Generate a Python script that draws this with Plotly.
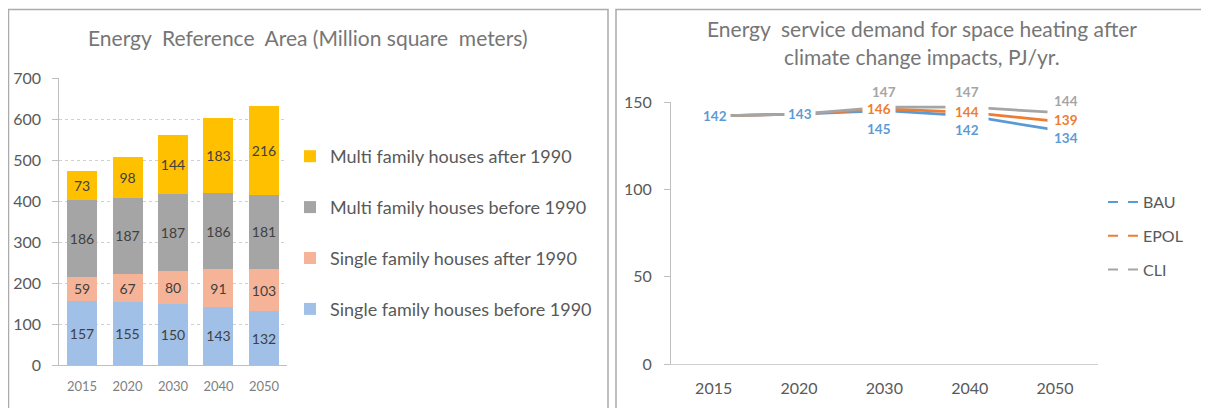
import plotly.graph_objects as go

# The page adds an 8 px body margin, so the figure is drawn 8 px smaller
# and every reference pixel position is shifted by that offset.
PAGE_W, PAGE_H, OFF = 1209, 408, 8
W, H = PAGE_W - OFF, PAGE_H - OFF
FONT = "Lato, Carlito, Calibri, sans-serif"

# ---------------- data ----------------
years = ["2015", "2020", "2030", "2040", "2050"]

area_names = [
    "Single family houses before 1990",
    "Single family houses after 1990",
    "Multi family houses before 1990",
    "Multi family houses after 1990",
]
single_before = [157, 155, 150, 143, 132]
single_after = [59, 67, 80, 91, 103]
multi_before = [186, 187, 187, 186, 181]
multi_after = [73, 98, 144, 183, 216]
area_ticks = [0, 100, 200, 300, 400, 500, 600, 700]

scenarios = ["BAU", "EPOL", "CLI"]
bau = [142, 143, 145, 142, 134]
epol = [142, 143, 146, 144, 139]
cli = [142, 143, 147, 147, 144]
demand_ticks = [0, 50, 100, 150]

title_left = "Energy  Reference  Area (Million square  meters)"
title_right_1 = "Energy  service demand for space heating after"
title_right_2 = "climate change impacts, PJ/yr."


# ---------------- helpers ----------------
def fx(px):
    return (px - OFF) / W


def fy(py):
    return 1 - (py - OFF) / H


area_values = [single_before, single_after, multi_before, multi_after]
area_colors = ["#A0C0E7", "#F5B498", "#A5A5A5", "#FFC000"]

demand_values = [bau, epol, cli]
demand_colors = ["#5B9BD5", "#ED7D31", "#A5A5A5"]

fig = go.Figure()

# stacked bars (left)
n_area = len(area_names)
for i, (name, vals, col) in enumerate(zip(area_names, area_values, area_colors)):
    fig.add_trace(go.Bar(
        x=years, y=vals, name=name,
        marker=dict(color=col, line=dict(width=0)),
        text=vals, texttemplate="%{text}",
        textposition="inside", insidetextanchor="middle",
        constraintext="none", textangle=0,
        insidetextfont=dict(family=FONT, size=14, color="#404040"),
        xaxis="x", yaxis="y",
        legend="legend", legendgroup=name, legendrank=n_area - i,
    ))

# lines (right)
for name, vals, col in zip(scenarios, demand_values, demand_colors):
    fig.add_trace(go.Scatter(
        x=years, y=vals, name=name, mode="lines",
        line=dict(color=col, width=2.75),
        xaxis="x2", yaxis="y2", showlegend=False,
    ))
# legend samples (dashed, as in the original legend)
for k, (name, col) in enumerate(zip(scenarios, demand_colors)):
    fig.add_trace(go.Scatter(
        x=[years[0]], y=[None], name=name, mode="lines",
        line=dict(color=col, width=2, dash="10px,10px"),
        xaxis="x2", yaxis="y2", legend="legend2", legendgroup=name,
        legendrank=k + 1,
    ))

# data labels for the line chart: (series index, year index) -> (dx, dy, pad)
# pad > 0 gives the label a white box that hides the line behind it
label_place = {
    (0, 0): (1, 0, 3),
    (0, 1): (1, 0, 3),
    (2, 2): (0, 15, 0), (1, 2): (-5, 0, 4), (0, 2): (-5, -18, 0),
    (2, 3): (-3, 15, 0), (1, 3): (-3, 0, 9), (0, 3): (-3, -14, 0),
    (2, 4): (11, 11, 0), (1, 4): (11, 1, 6), (0, 4): (11, -8, 0),
}
annotations = []
# boxed (centre) labels first, so the others are drawn over their boxes
for boxed_pass in (True, False):
    for (si, yi), (dx, dy, pad) in label_place.items():
        if (pad > 0) != boxed_pass:
            continue
        annotations.append(dict(
            xref="x2", yref="y2", x=yi, y=demand_values[si][yi],
            text=str(demand_values[si][yi]), showarrow=False,
            xshift=dx, yshift=dy,
            font=dict(family=FONT, size=13.5, color=demand_colors[si], weight="bold"),
            bgcolor="white" if pad > 0 else "rgba(0,0,0,0)", borderpad=max(pad, 1),
        ))

annotations += [
    dict(xref="paper", yref="paper", x=fx(307.5), y=fy(37.5), text=title_left,
         showarrow=False, xanchor="center", yanchor="middle",
         font=dict(family=FONT, size=21, color="#767676")),
    dict(xref="paper", yref="paper", x=fx(921.7), y=fy(28), text=title_right_1,
         showarrow=False, xanchor="center", yanchor="middle",
         font=dict(family=FONT, size=21, color="#767676")),
    dict(xref="paper", yref="paper", x=fx(921.7), y=fy(56.5), text=title_right_2,
         showarrow=False, xanchor="center", yanchor="middle",
         font=dict(family=FONT, size=21, color="#767676")),
]

axis_line = "#BFBFBF"
fig.update_layout(
    width=W, height=H, template="none",
    margin=dict(l=0, r=0, t=0, b=0, autoexpand=False),
    paper_bgcolor="white", plot_bgcolor="white",
    font=dict(family=FONT, color="#595959"),
    barmode="stack", bargap=0.34,
    showlegend=True,
    xaxis=dict(domain=[fx(59.3), fx(286.7)], anchor="y", type="category",
               categoryorder="array", categoryarray=years, range=[-0.5, 4.5],
               showline=True, linecolor=axis_line, linewidth=1, ticks="",
               showgrid=False, zeroline=False, automargin=False,
               tickfont=dict(family=FONT, size=13, color="#7F7F7F"),
               ticklabelstandoff=9, fixedrange=True),
    yaxis=dict(domain=[fy(365.3), fy(78.3)], anchor="x", range=[0, 700],
               tickvals=area_ticks, showline=True, linecolor=axis_line, linewidth=1,
               ticks="outside", ticklen=6, tickcolor=axis_line,
               showgrid=True, gridcolor="#D0D0D0", griddash="dot", gridwidth=1,
               zeroline=False, automargin=False,
               tickfont=dict(family=FONT, size=16, color="#595959"),
               ticklabelstandoff=8, fixedrange=True),
    xaxis2=dict(domain=[fx(671), fx(1097.7)], anchor="y2", type="category",
                categoryorder="array", categoryarray=years, range=[-0.5, 4.5],
                showline=True, linecolor="#D0D0D0", linewidth=1, ticks="",
                showgrid=False, zeroline=False, automargin=False,
                tickfont=dict(family=FONT, size=16, color="#595959"),
                ticklabelstandoff=10, fixedrange=True),
    yaxis2=dict(domain=[fy(364), fy(102)], anchor="x2", range=[0, 150],
                tickvals=demand_ticks, showline=True, linecolor=axis_line, linewidth=1,
                ticks="outside", ticklen=6, tickcolor=axis_line,
                showgrid=False, zeroline=False, automargin=False,
                tickfont=dict(family=FONT, size=16, color="#595959"),
                ticklabelstandoff=9, fixedrange=True),
    legend=dict(x=fx(290), y=fy(138), xanchor="left", yanchor="top",
                traceorder="grouped", tracegroupgap=24.5,
                font=dict(family=FONT, size=18, color="#595959"),
                bgcolor="rgba(0,0,0,0)", borderwidth=0, itemclick=False,
                itemdoubleclick=False),
    legend2=dict(x=fx(1103), y=fy(185), xanchor="left", yanchor="top",
                 traceorder="grouped", tracegroupgap=10,
                 font=dict(family=FONT, size=16, color="#595959"),
                 bgcolor="rgba(0,0,0,0)", borderwidth=0, itemclick=False,
                 itemdoubleclick=False),
    annotations=annotations,
    shapes=[
        dict(type="rect", xref="paper", yref="paper",
             x0=fx(8.5), x1=fx(608), y0=-0.1, y1=fy(9.5),
             line=dict(color="#ABABAB", width=1.5), fillcolor="rgba(0,0,0,0)", layer="below"),
        dict(type="rect", xref="paper", yref="paper",
             x0=fx(616), x1=1.1, y0=-0.1, y1=fy(9.5),
             line=dict(color="#ABABAB", width=1.5), fillcolor="rgba(0,0,0,0)", layer="below"),
    ],
)

fig.write_html("out.html")
